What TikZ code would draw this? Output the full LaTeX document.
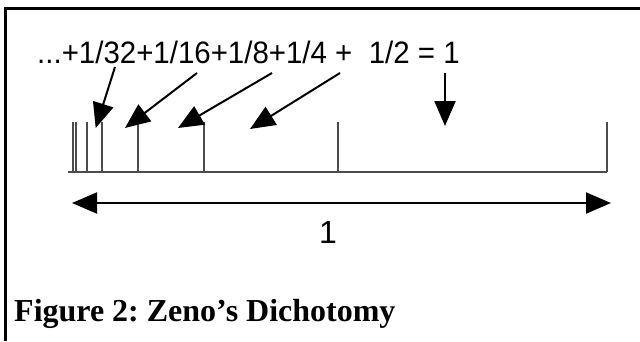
\documentclass[tikz,border=0pt]{standalone}
\usepackage{fontspec}
\setmainfont{Liberation Serif}
\newfontfamily\arialfont{Liberation Sans}
\usetikzlibrary{arrows.meta}
\tikzset{
  frame/.style={line width=3pt, black},
  axisline/.style={line width=1.4pt, draw=black!70},
  pointer/.style={line width=2pt, -{Triangle[length=25pt,width=21pt]}},
  span/.style={line width=2pt, {Triangle[length=25pt,width=21pt]}-{Triangle[length=25pt,width=21pt]}},
  sans/.style={font=\arialfont\fontsize{31}{31}\selectfont, inner sep=0pt},
  caption/.style={font=\bfseries\fontsize{32}{32}\selectfont, inner sep=0pt}
}
\begin{document}
\begin{tikzpicture}[x=1pt,y=-1pt]
\useasboundingbox (0,0) rectangle (640,341);
% frame
\draw[frame] (5,341) -- (5,8.5) -- (640,8.5);
% formula
\node[sans, xscale=0.95, anchor=base west] (sum) at (37,63) {...+1/32+1/16+1/8+1/4 +\ \ 1/2 = 1};
% axis
\coordinate (a0) at (68,172);
\coordinate (a1) at (607,172);
\draw[axisline] (a0) -- (a1);
\foreach \x [count=\i] in {73,76,87,102,138,204,338,607}
  \draw[axisline] (\x,172) -- (\x,122);
% pointers
\coordinate (s1) at (115,67);  \coordinate (t1) at (95.7,128);
\coordinate (s2) at (197,73);  \coordinate (t2) at (125,128);
\coordinate (s3) at (272,73);  \coordinate (t3) at (178,128);
\coordinate (s4) at (340,73);  \coordinate (t4) at (250,129);
\coordinate (s5) at (445,73);  \coordinate (t5) at (445,126);
\foreach \k in {1,...,5}
  \draw[pointer] (s\k) -- (t\k);
% span arrow
\coordinate (l) at (72,203);
\coordinate (r) at (611,203);
\draw[span] (l) -- (r);
\node[sans, font=\arialfont\fontsize{32}{32}\selectfont, anchor=base] (one) at (328,243) {1};
% caption
\node[caption, anchor=base west] (cap) at (14,321) {\frenchspacing Figure 2: Zeno’s Dichotomy};
\end{tikzpicture}
\end{document}
